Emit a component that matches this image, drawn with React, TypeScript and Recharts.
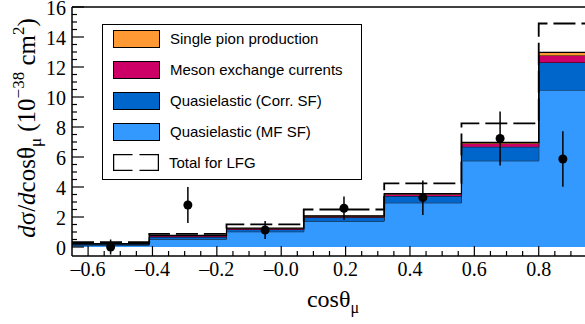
import {
  ComposedChart,
  Area,
  Line,
  Scatter,
  ErrorBar,
  XAxis,
  YAxis,
  ReferenceLine,
  Legend,
} from "recharts";

// bin edges in cos(theta_mu), last value closes the last bin
const binEdges = [-0.65, -0.41, -0.17, 0.07, 0.32, 0.56, 0.8, 0.95];

// stacked contributions per bin (10^-38 cm^2)
const mfSF = [0.12, 0.52, 1.02, 1.73, 2.95, 5.75, 10.47];
const corrSF = [0.08, 0.15, 0.15, 0.25, 0.45, 0.93, 1.83];
const mecValues = [0.02, 0.07, 0.06, 0.07, 0.12, 0.22, 0.47];
const pionValues = [0.01, 0.03, 0.03, 0.03, 0.04, 0.07, 0.2];
const totalLFG = [0.33, 0.87, 1.51, 2.5, 4.24, 8.24, 14.9];

// measured points
const dataCos = [-0.53, -0.29, -0.05, 0.195, 0.44, 0.68, 0.875];
const dataVal = [0.0, 2.8, 1.13, 2.58, 3.29, 7.24, 5.87];
const dataErr = [0.5, 1.2, 0.6, 0.78, 1.15, 1.8, 1.85];

// axes
const xMajorTicks = [-0.6, -0.4, -0.2, 0, 0.2, 0.4, 0.6, 0.8];
const xTickLabels = ["–0.6", "–0.4", "–0.2", "–0.0", "0.2", "0.4", "0.6", "0.8"];
const xMinorTicks = [
  -0.55, -0.5, -0.45, -0.35, -0.3, -0.25, -0.15, -0.1, -0.05, 0.05, 0.1, 0.15,
  0.25, 0.3, 0.35, 0.45, 0.5, 0.55, 0.65, 0.7, 0.75, 0.85, 0.9,
];
const yMajorTicks = [0, 2, 4, 6, 8, 10, 12, 14, 16];
const yTickLabels = ["0", "2", "4", "6", "8", "10", "12", "14", "16"];
const yMinorTicks = [
  0.5, 1, 1.5, 2.5, 3, 3.5, 4.5, 5, 5.5, 6.5, 7, 7.5, 8.5, 9, 9.5, 10.5, 11,
  11.5, 12.5, 13, 13.5, 14.5, 15, 15.5,
];

const legendNames = [
  "Single pion production",
  "Meson exchange currents",
  "Quasielastic (Corr. SF)",
  "Quasielastic (MF SF)",
  "Total for LFG",
];
const legendColors = ["#ff9933", "#cc0066", "#0066cc", "#3399ff", "none"];

const serif = "'Liberation Serif', 'DejaVu Serif', serif";
const sans = "'Liberation Sans', Arial, sans-serif";

const histData = binEdges.map((x, i) => {
  const k = Math.min(i, mfSF.length - 1);
  return {
    x,
    mf: mfSF[k],
    corr: corrSF[k],
    mec: mecValues[k],
    pion: pionValues[k],
    lfg: totalLFG[k],
  };
});

const points = dataCos.map((x, i) => ({ x, y: dataVal[i], err: dataErr[i] }));

const findTick = (list: number[], v: number) =>
  list.findIndex((t) => Math.abs(t - v) < 1e-6);

const XTick = (props: any) => {
  const { x, y, payload } = props;
  const i = findTick(xMajorTicks, payload.value);
  return (
    <g>
      <line x1={x} x2={x} y1={y} y2={y - (i >= 0 ? 10 : 5)} stroke="#000" strokeWidth={1.2} />
      {i >= 0 && (
        <text x={x} y={y + 20} textAnchor="middle" fontSize={20} fontFamily={serif} fill="#000">
          {xTickLabels[i]}
        </text>
      )}
    </g>
  );
};

const YTick = (props: any) => {
  const { x, y, payload } = props;
  const i = findTick(yMajorTicks, payload.value);
  return (
    <g>
      <line x1={x} x2={x + (i >= 0 ? 12 : 5)} y1={y} y2={y} stroke="#000" strokeWidth={1.2} />
      {i >= 0 && (
        <text x={x - 6} y={y + 8} textAnchor="end" fontSize={20} fontFamily={serif} fill="#000">
          {yTickLabels[i]}
        </text>
      )}
    </g>
  );
};

const YTitle = () => (
  <text
    transform="translate(35,128) rotate(-90)"
    textAnchor="middle"
    fontSize={25}
    fontFamily={serif}
    fill="#000"
  >
    <tspan fontStyle="italic">d</tspan>σ/<tspan fontStyle="italic">d</tspan>cosθ
    <tspan dy={6} fontSize={17}>μ</tspan>
    <tspan dy={-6}> (10</tspan>
    <tspan dy={-11} fontSize={17}>−38</tspan>
    <tspan dy={11}> cm</tspan>
    <tspan dy={-11} fontSize={17}>2</tspan>
    <tspan dy={11}>)</tspan>
  </text>
);

const XTitle = () => (
  <text x={333} y={307} textAnchor="middle" fontSize={24} fontFamily={serif} fill="#000">
    cosθ<tspan dy={6} fontSize={16}>μ</tspan>
  </text>
);

const DashedSwatch = () => (
  <svg width={46} height={17} style={{ display: "block" }}>
    <rect
      x={0.5}
      y={0.5}
      width={45}
      height={16}
      fill="none"
      stroke="#000"
      strokeWidth={1.5}
      strokeDasharray="19 7 54 7 35"
    />
  </svg>
);

const LegendBox = () => (
  <div
    style={{
      width: 260,
      height: 156,
      boxSizing: "border-box",
      border: "1.5px solid #000",
      background: "#fff",
      fontFamily: sans,
      fontSize: 15,
      color: "#000",
    }}
  >
    {legendNames.map((name, i) => (
      <div
        key={name}
        style={{ display: "flex", alignItems: "center", height: 31, marginTop: i === 0 ? -2 : 0 }}
      >
        <div style={{ marginLeft: 10, marginRight: 10 }}>
          {legendColors[i] === "none" ? (
            <DashedSwatch />
          ) : (
            <div
              style={{
                width: 45,
                height: 16,
                background: legendColors[i],
                border: "1px solid #000",
              }}
            />
          )}
        </div>
        <span>{name}</span>
      </div>
    ))}
  </div>
);

export default function App() {
  return (
    <div
      style={{
        position: "fixed",
        left: 0,
        top: 0,
        width: 585,
        height: 324,
        overflow: "hidden",
        background: "#fff",
      }}
    >
      <ComposedChart
        width={590}
        height={324}
        data={histData}
        margin={{ top: 7, right: 3, bottom: 0, left: 0 }}
      >
        <XAxis
          dataKey="x"
          type="number"
          domain={[-0.65, 0.95]}
          ticks={[...xMajorTicks, ...xMinorTicks]}
          interval={0}
          tick={<XTick />}
          tickSize={0}
          tickMargin={0}
          tickLine={false}
          axisLine={{ stroke: "#000", strokeWidth: 1.5 }}
          height={68}
          label={XTitle}
        />
        <YAxis
          type="number"
          domain={[-0.6, 16]}
          ticks={[...yMajorTicks, ...yMinorTicks]}
          interval={0}
          tick={<YTick />}
          tickSize={0}
          tickMargin={0}
          tickLine={false}
          axisLine={{ stroke: "#000", strokeWidth: 1.5 }}
          width={72}
          label={YTitle}
        />
        <ReferenceLine y={16} stroke="#000" strokeWidth={1.5} />
        <Area
          dataKey="mf"
          stackId="s"
          type="stepAfter"
          fill="#3399ff"
          fillOpacity={1}
          stroke="#000"
          strokeWidth={1}
          isAnimationActive={false}
        />
        <Area
          dataKey="corr"
          stackId="s"
          type="stepAfter"
          fill="#0066cc"
          fillOpacity={1}
          stroke="#000"
          strokeWidth={1}
          isAnimationActive={false}
        />
        <Area
          dataKey="mec"
          stackId="s"
          type="stepAfter"
          fill="#cc0066"
          fillOpacity={1}
          stroke="#000"
          strokeWidth={1}
          isAnimationActive={false}
        />
        <Area
          dataKey="pion"
          stackId="s"
          type="stepAfter"
          fill="#ff9933"
          fillOpacity={1}
          stroke="#000"
          strokeWidth={1.2}
          isAnimationActive={false}
        />
        <Line
          dataKey="lfg"
          type="stepAfter"
          stroke="#000"
          strokeWidth={1.8}
          strokeDasharray="22 6"
          dot={false}
          isAnimationActive={false}
        />
        <Scatter
          data={points}
          dataKey="y"
          fill="#000"
          isAnimationActive={false}
          shape={(p: any) => <circle cx={p.cx} cy={p.cy} r={4.5} fill="#000" />}
        >
          <ErrorBar dataKey="err" direction="y" width={0} stroke="#000" strokeWidth={1.5} />
        </Scatter>
        <Legend
          layout="horizontal"
          verticalAlign="middle"
          align="center"
          wrapperStyle={{ left: 102, top: 24, width: 260, height: 156 }}
          content={() => <LegendBox />}
        />
      </ComposedChart>
    </div>
  );
}
